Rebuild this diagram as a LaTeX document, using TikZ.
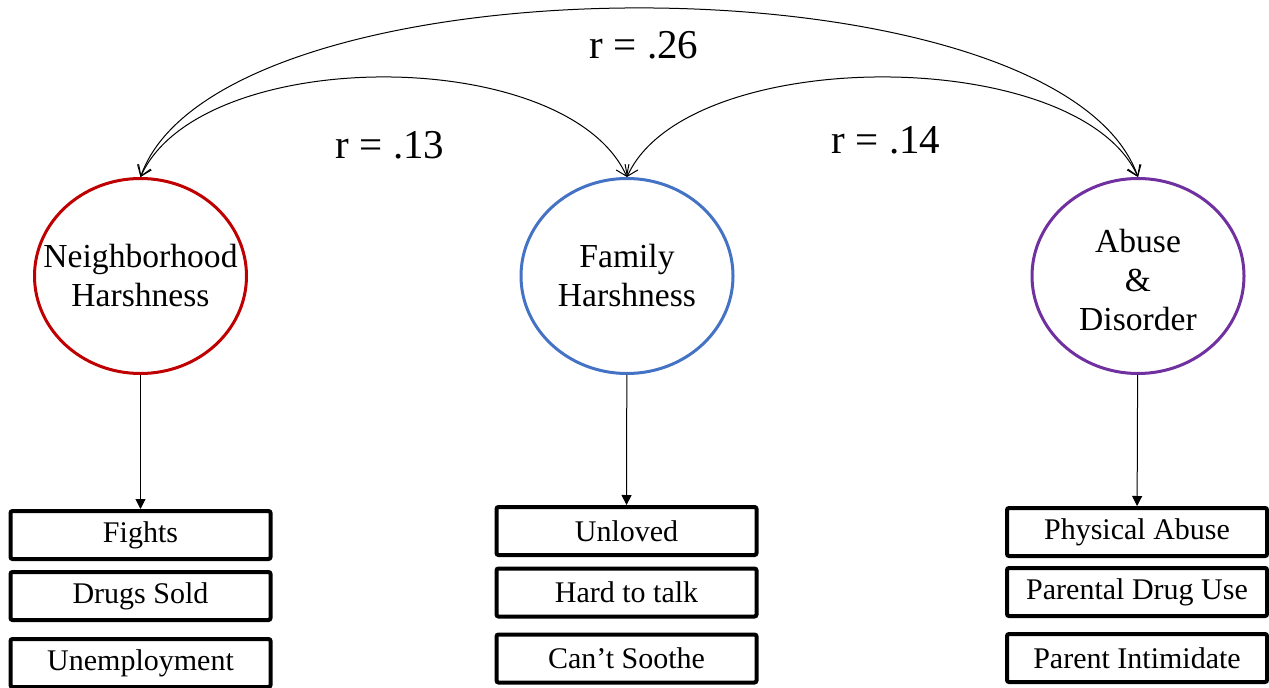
\documentclass[tikz,border=0pt]{standalone}
\usepackage{fontspec}
\setmainfont{Liberation Serif}
\usetikzlibrary{shapes.geometric,arrows.meta}
\definecolor{nhred}{HTML}{C00000}
\definecolor{fhblue}{HTML}{4472C4}
\definecolor{adpurple}{HTML}{7030A0}

\begin{document}
\begin{tikzpicture}[
		x=0.5pt, y=0.5pt,
		% 潜变量（椭圆）与指标（方框）的统一样式
		latent/.style={ellipse, draw, line width=1.5pt, minimum width=106pt, minimum height=97.5pt, inner sep=0pt},
		latentname/.style={align=center, font=\fontsize{16.8}{19.5}\selectfont},
		indicator/.style={rectangle, draw, line width=2pt, rounded corners=1pt, minimum width=130pt, minimum height=24pt, inner sep=0pt, font=\fontsize{15}{18}\selectfont},
		load/.style={-{Triangle[length=5pt,width=5pt]}, line width=0.5pt},
		corr/.style={{Straight Barb[length=5pt,width=7pt]}-{Straight Barb[length=5pt,width=7pt]}, line width=0.5pt},
		rlabel/.style={font=\fontsize{20.5}{24}\selectfont}
		]
		
		% ----- 0. 画布大小 -----
		\useasboundingbox (0,0) rectangle (1269,687);
		
		% ----- 1. 三个潜变量 -----
		\node[latent, nhred] (NH) at (140.5,411) {};
		\node[latentname] (NHtext) at (NH) {Neighborhood\\Harshness};
		
		\node[latent, fhblue] (FH) at (627,411) {};
		\node[latentname] (FHtext) at (FH) {Family\\Harshness};
		
		\node[latent, adpurple] (AD) at (1138,411) {};
		\node[latentname, yshift=-2pt] (ADtext) at (AD) {Abuse\\\&\\Disorder};
		
		% ----- 2. 指标方框 -----
		% 邻里
		\node[indicator] (fights) at (140.5,152) {Fights};
		\node[indicator] (drugs) at (140.5,91) {Drugs Sold};
		\node[indicator] (unemp) at (140.5,24) {Unemployment};
		% 家庭
		\node[indicator] (unloved) at (626.5,156) {Unloved};
		\node[indicator] (talk) at (626.5,94.5) {Hard to talk};
		\node[indicator] (soothe) at (626.5,28.5) {Can’t Soothe};
		% 虐待与混乱
		\node[indicator] (abuse) at (1137,155) {Physical Abuse};
		\node[indicator] (pdrug) at (1137,95) {Parental Drug Use};
		\node[indicator] (intim) at (1137,29) {Parent Intimidate};
		
		% ----- 3. 载荷箭头 -----
		\draw[load] (NH) -- (fights);
		\draw[load] (FH) -- (unloved);
		\draw[load] (AD) -- (abuse);
		
		% ----- 4. 相关弧线 -----
		\draw[corr] (NH.north) .. controls +(80,225) and +(-80,225) .. (AD.north);
		\draw[corr] (NH.north) .. controls +(60,133) and +(-60,133) .. (FH.north);
		\draw[corr] (FH.north) .. controls +(60,133) and +(-60,133) .. (AD.north);
		
		% 相关系数
		\node[rlabel] (r26) at (644,642) {r = .26};
		\node[rlabel] (r13) at (390,542) {r = .13};
		\node[rlabel] (r14) at (886,547) {r = .14};
		
	\end{tikzpicture}
\end{document}
